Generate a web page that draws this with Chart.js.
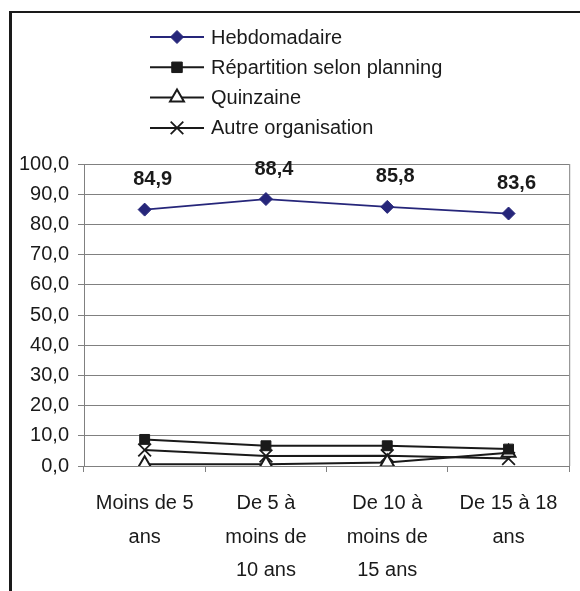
<!DOCTYPE html>
<html lang="fr">
<head>
  <meta charset="UTF-8" />
  <title>Organisation selon l'âge</title>
  <script src="https://cdn.jsdelivr.net/npm/chart.js"></script>
  <style>
    html, body { margin: 0; padding: 0; background: #fff; }
    #cadre {
      position: absolute; left: 9px; top: 11px; width: 600px; height: 620px;
      border-left: 3px solid #1a1a1a; border-top: 2px solid #1a1a1a;
    }
    #zone { position: absolute; left: 0; top: 0; width: 580px; height: 591px; }
  </style>
</head>
<body>
  <div id="cadre"></div>
  <div id="zone"><canvas id="graphique" width="580" height="591"></canvas></div>

  <script>
    const categories = [
      ['Moins de 5', 'ans'],
      ['De 5 à', 'moins de', '10 ans'],
      ['De 10 à', 'moins de', '15 ans'],
      ['De 15 à 18', 'ans']
    ];
    const hebdomadaire = [84.9, 88.4, 85.8, 83.6];
    const repartition = [8.8, 6.7, 6.7, 5.6];
    const quinzaine = [0.6, 0.6, 1.2, 4.4];
    const autre = [5.3, 3.3, 3.4, 2.5];
    const ticksY = [0, 10, 20, 30, 40, 50, 60, 70, 80, 90, 100];

    const police = "'Liberation Sans', Arial, sans-serif";
    const bleu = '#26267a';
    const virgule = v => v.toFixed(1).replace('.', ',');

    function drawMark(ctx, style, r, x, y) {
      ctx.beginPath();
      if (style === 'rectRot') {
        ctx.moveTo(x, y - r); ctx.lineTo(x + r, y); ctx.lineTo(x, y + r); ctx.lineTo(x - r, y);
        ctx.closePath(); ctx.fill(); ctx.stroke();
      } else if (style === 'rect') {
        const d = r * 0.75;
        ctx.rect(x - d, y - d, d * 2, d * 2); ctx.fill(); ctx.stroke();
      } else if (style === 'triangle') {
        ctx.moveTo(x, y - r); ctx.lineTo(x + r * 0.87, y + r * 0.5); ctx.lineTo(x - r * 0.87, y + r * 0.5);
        ctx.closePath(); ctx.fill(); ctx.stroke();
      } else {
        const d = r * 0.7;
        ctx.moveTo(x - d, y - d); ctx.lineTo(x + d, y + d);
        ctx.moveTo(x + d, y - d); ctx.lineTo(x - d, y + d);
        ctx.stroke();
      }
    }

    // bord droit, étiquettes de valeurs et légende
    const decor = {
      id: 'decor',
      afterDraw(chart) {
        const ctx = chart.ctx;
        const a = chart.chartArea;
        ctx.save();
        ctx.strokeStyle = '#808080';
        ctx.lineWidth = 1;
        ctx.beginPath();
        ctx.moveTo(a.right + 0.5, a.top);
        ctx.lineTo(a.right + 0.5, a.bottom);
        ctx.stroke();

        ctx.font = 'bold 20px ' + police;
        ctx.fillStyle = '#1a1a1a';
        ctx.textAlign = 'center';
        ctx.textBaseline = 'middle';
        chart.getDatasetMeta(0).data.forEach((p, i) => {
          ctx.fillText(virgule(hebdomadaire[i]), p.x + 8, p.y - 30);
        });

        ctx.font = '20px ' + police;
        ctx.textAlign = 'left';
        chart.data.datasets.forEach((ds, i) => {
          const y = 37 + i * 30.3;
          ctx.strokeStyle = ds.borderColor;
          ctx.lineWidth = ds.borderWidth;
          ctx.beginPath();
          ctx.moveTo(150, y);
          ctx.lineTo(204, y);
          ctx.stroke();
          ctx.fillStyle = ds.pointBackgroundColor;
          ctx.strokeStyle = ds.pointBorderColor;
          ctx.lineWidth = ds.pointBorderWidth;
          drawMark(ctx, ds.pointStyle, ds.pointRadius, 177, y);
          ctx.fillStyle = '#1a1a1a';
          ctx.fillText(ds.label, 211, y + 1);
        });
        ctx.restore();
      }
    };

    new Chart(document.getElementById('graphique'), {
      type: 'line',
      data: {
        labels: categories,
        datasets: [
          {
            label: 'Hebdomadaire', data: hebdomadaire,
            borderColor: bleu, borderWidth: 1.8,
            pointStyle: 'rectRot', pointRadius: 6.5,
            pointBackgroundColor: bleu, pointBorderColor: bleu, pointBorderWidth: 1
          },
          {
            label: 'Répartition selon planning', data: repartition,
            borderColor: '#1a1a1a', borderWidth: 2,
            pointStyle: 'rect', pointRadius: 7,
            pointBackgroundColor: '#1a1a1a', pointBorderColor: '#1a1a1a', pointBorderWidth: 1
          },
          {
            label: 'Quinzaine', data: quinzaine,
            borderColor: '#1a1a1a', borderWidth: 2,
            pointStyle: 'triangle', pointRadius: 8,
            pointBackgroundColor: '#fff', pointBorderColor: '#1a1a1a', pointBorderWidth: 2
          },
          {
            label: 'Autre organisation', data: autre,
            borderColor: '#1a1a1a', borderWidth: 2,
            pointStyle: 'crossRot', pointRadius: 9,
            pointBackgroundColor: '#1a1a1a', pointBorderColor: '#1a1a1a', pointBorderWidth: 1.8
          }
        ]
      },
      options: {
        responsive: false,
        animation: false,
        layout: { padding: { top: 164, left: 0, right: 4, bottom: 0 } },
        plugins: { legend: { display: false }, tooltip: { enabled: false } },
        elements: { line: { tension: 0 } },
        scales: {
          x: {
            offset: true,
            afterFit: s => { s.height = 125; },
            border: { color: '#808080', width: 1 },
            grid: { offset: true, drawOnChartArea: false, drawTicks: true, tickLength: 6, color: '#808080' },
            ticks: { color: '#1a1a1a', font: { family: police, size: 20, lineHeight: 1.67 }, padding: 15, maxRotation: 0, autoSkip: false }
          },
          y: {
            min: 0, max: 100,
            afterFit: s => { s.width = 84; },
            afterBuildTicks: s => { s.ticks = ticksY.map(v => ({ value: v })); },
            border: { color: '#808080', width: 1 },
            grid: { color: '#808080', lineWidth: 1, tickLength: 6 },
            ticks: { color: '#1a1a1a', font: { family: police, size: 20 }, padding: 9, callback: v => virgule(v) }
          }
        }
      },
      plugins: [decor]
    });
  </script>
</body>
</html>
